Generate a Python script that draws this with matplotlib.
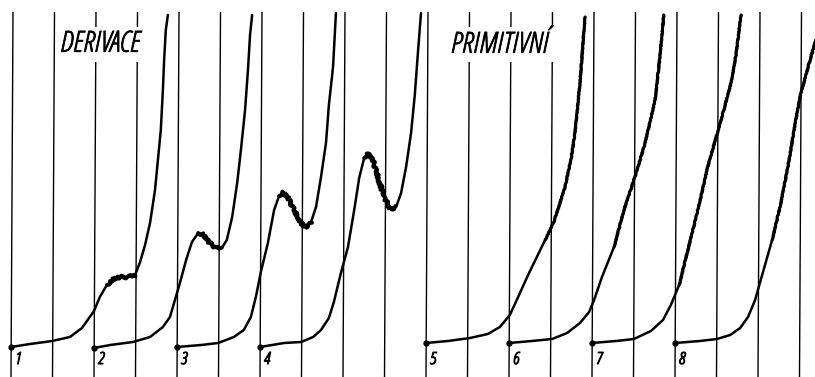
import numpy as np
import matplotlib
matplotlib.use("Agg")
import matplotlib.pyplot as plt
from matplotlib import font_manager
from matplotlib.font_manager import FontProperties
import matplotlib.patheffects as pe

# ---------------- data ----------------
# vertical grid lines, in potential steps
grid_lines = list(range(20))
grid_gaps = {2: (315, 350), 3: (315, 350), 11: (315, 350), 12: (315, 350), 13: (315, 350)}
grid_top = 365

curve_labels = ["1", "2", "3", "4", "5", "6", "7", "8"]
curve_start = [0, 2, 4, 6, 10, 12, 14, 16]          # grid line where each record starts
curve_base = [30, 29, 30, 30, 34, 34, 34, 34]        # baseline current level

# relative potential (grid steps from start) and current above baseline
c1_dE = [0, 0.46, 0.99, 1.42, 1.71, 2.00, 2.14, 2.31, 2.46, 2.63, 2.82, 2.99, 3.11, 3.23, 3.35, 3.47, 3.54, 3.61, 3.66, 3.69, 3.73, 3.78]
c1_i = [0, 3, 6, 10, 19, 36, 50, 62, 68, 70, 70, 72, 85, 102, 124, 157, 187, 217, 257, 287, 317, 332]

c2_dE = [0, 0.39, 0.94, 1.35, 1.66, 1.83, 1.95, 2.07, 2.22, 2.36, 2.51, 2.63, 2.77, 2.94, 3.08, 3.20, 3.33, 3.45, 3.54, 3.64, 3.71, 3.76, 3.81]
c2_i = [0, 3, 6, 11, 21, 31, 48, 65, 88, 106, 115, 114, 106, 100, 100, 108, 131, 165, 198, 238, 278, 313, 333]

c3_dE = [0, 0.58, 0.99, 1.37, 1.61, 1.78, 1.90, 2.02, 2.19, 2.34, 2.46, 2.55, 2.67, 2.82, 2.99, 3.11, 3.23, 3.35, 3.47, 3.59, 3.66, 3.76, 3.83]
c3_i = [0, 2, 4, 10, 17, 30, 50, 75, 104, 137, 151, 155, 150, 137, 124, 119, 125, 140, 170, 204, 242, 280, 334]

c4_dE = [0, 0.58, 0.99, 1.28, 1.47, 1.66, 1.78, 1.95, 2.12, 2.27, 2.39, 2.51, 2.60, 2.72, 2.84, 2.99, 3.16, 3.28, 3.40, 3.52, 3.64, 3.73, 3.81, 3.88]
c4_i = [0, 4, 5, 10, 17, 29, 45, 74, 100, 137, 169, 189, 194, 187, 170, 150, 137, 140, 154, 180, 214, 252, 297, 334]

c5_dE = [0, 0.53, 1.06, 1.49, 1.78, 2.02, 2.22, 2.46, 2.87, 3.08, 3.35, 3.49, 3.59, 3.71, 3.78, 3.83]
c5_i = [0, 2, 5, 9, 16, 28, 46, 68, 103, 121, 156, 183, 210, 260, 298, 326]

c6_dE = [0, 0.55, 1.04, 1.40, 1.71, 1.93, 2.05, 2.24, 2.53, 2.77, 3.04, 3.28, 3.52, 3.64, 3.73]
c6_i = [0, 2, 4, 10, 20, 31, 43, 66, 96, 133, 167, 200, 243, 288, 328]

c7_dE = [0, 0.58, 1.01, 1.42, 1.71, 1.90, 2.10, 2.34, 2.55, 2.80, 3.11, 3.35, 3.47, 3.59]
c7_i = [0, 2, 4, 12, 23, 38, 58, 98, 133, 178, 223, 260, 288, 328]

c8_dE = [0, 0.60, 1.01, 1.33, 1.57, 1.76, 1.93, 2.10, 2.34, 2.53, 2.72, 2.89, 3.01, 3.20, 3.37, 3.54]
c8_i = [0, 2, 4, 8, 15, 26, 43, 68, 103, 136, 176, 218, 246, 275, 300, 321]

curves_dE = [c1_dE, c2_dE, c3_dE, c4_dE, c5_dE, c6_dE, c7_dE, c8_dE]
curves_i = [c1_i, c2_i, c3_i, c4_i, c5_i, c6_i, c7_i, c8_i]

# potential ranges where the record shows strong drop oscillations
wave_zone = [(2.30, 3.00), (2.40, 3.15), (2.40, 3.30), (2.40, 3.35),
             (2.6, 3.9), (2.3, 3.8), (2.1, 3.7), (2.2, 3.6)]

section_titles = ["DERIVACE", "PRIMITIVNÍ"]
section_title_pos = [(2.15, 333), (11.78, 332)]

# ---------------- fonts ----------------
def pick_font(family, stretch, style, weights):
    cands = [f for f in font_manager.fontManager.ttflist
             if f.name == family and f.stretch == stretch and f.style == style]
    for w in weights:
        for f in cands:
            if str(f.weight) == str(w):
                return f.fname
    return cands[0].fname if cands else None

title_file = pick_font("Open Sans", "condensed", "italic", [400, 500, 300])
if title_file:
    title_fp = FontProperties(fname=title_file, size=21)
    label_fp = FontProperties(fname=title_file, size=12)
    stroke_t, stroke_l = 0.55, 0.8
else:
    title_fp = FontProperties(family="DejaVu Sans", style="italic", size=14)
    label_fp = FontProperties(family="DejaVu Sans", style="italic", weight="bold", size=10)
    stroke_t, stroke_l = 0.0, 0.0

# ---------------- figure ----------------
W, H, DPI = 815, 377, 100
step_px = 41.5
x0_px = 11.0

fig = plt.figure(figsize=(W / DPI, H / DPI), dpi=DPI)
ax = fig.add_axes([0, 0, 1, 1])
ax.set_xlim(-x0_px / step_px, (W - x0_px) / step_px)
ax.set_ylim(0, H)
ax.axis("off")

tilt = 2.0 / step_px
for g in grid_lines:
    if g in grid_gaps:
        lo, hi = grid_gaps[g]
        segs = [(0, lo), (hi, grid_top)]
    else:
        segs = [(0, grid_top)]
    for a, b in segs:
        ax.plot([g + tilt * a / grid_top, g + tilt * b / grid_top], [a, b],
                color="black", lw=1.0, solid_capstyle="butt", zorder=1)

for k in range(len(curves_dE)):
    x = np.array(curves_dE[k]) + curve_start[k]
    y = np.array(curves_i[k]) + curve_base[k]
    ax.plot(x, y, color="black", lw=1.8, solid_joinstyle="round",
            solid_capstyle="round", zorder=3)
    ax.plot(x[0], y[0], "o", color="black", ms=3.5, zorder=4)
    lo, hi = wave_zone[k]
    xd = np.array(curves_dE[k])
    m = (xd >= lo) & (xd <= hi)
    ln, = ax.plot(x[m], y[m], color="black", lw=2.8 if k < 4 else 2.2,
                  solid_joinstyle="round", solid_capstyle="round", zorder=3)
    ln.set_sketch_params(scale=1.4 if k < 4 else 0.4, length=2.5, randomness=4)
    ax.text(curve_start[k] + 0.1, 13, curve_labels[k], fontproperties=label_fp,
            ha="left", va="baseline", zorder=5,
            path_effects=[pe.withStroke(linewidth=stroke_l, foreground="black")])

for t, (tx, ty) in zip(section_titles, section_title_pos):
    ax.text(tx, ty, t, fontproperties=title_fp, ha="center", va="center", zorder=5,
            path_effects=[pe.withStroke(linewidth=stroke_t, foreground="black")])

fig.savefig("out.png", dpi=DPI, facecolor="white")
